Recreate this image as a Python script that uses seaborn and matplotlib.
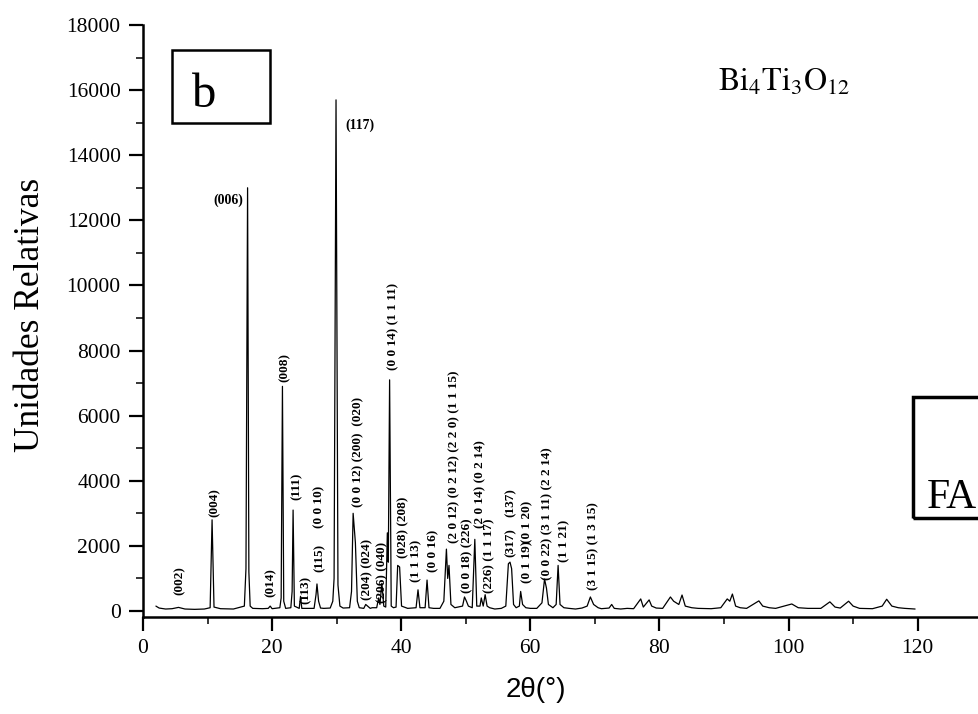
import matplotlib
matplotlib.use("Agg")
import matplotlib.pyplot as plt
from matplotlib.patches import Rectangle
from matplotlib.ticker import MultipleLocator
import seaborn as sns
import pandas as pd

# ---- data: XRD pattern vertices (2theta, intensity) ----
two_theta = [2.0, 2.5, 3.5, 4.5, 5.5, 6.5, 8.0, 9.5, 10.4, 10.7, 11.0, 12.0, 14.0,
             15.7, 15.95, 16.2, 16.4, 16.6, 17.0, 18.5, 19.4, 19.7, 20.0, 21.2, 21.4,
             21.6, 21.8, 22.1, 22.9, 23.1, 23.25, 23.45, 24.2, 24.4, 24.6, 26.5, 26.8,
             26.95, 27.2, 27.5, 28.0, 29.0, 29.4, 29.6, 29.9, 30.2, 30.5, 31.0, 32.0,
             32.3, 32.55, 32.9, 33.2, 33.5, 34.2, 34.5, 34.8, 35.2, 35.5, 36.2, 36.5,
             36.7, 37.0, 37.3, 37.6, 37.85, 38.0, 38.2, 38.45, 38.8, 39.2, 39.45, 39.75,
             40.05, 41.0, 42.3, 42.6, 42.9, 43.7, 44.0, 44.3, 45.0, 46.0, 46.6, 47.0,
             47.2, 47.4, 47.7, 48.3, 49.5, 49.8, 50.1, 50.4, 51.0, 51.4, 51.7, 52.2,
             52.4, 52.7, 53.0, 53.3, 53.7, 54.5, 55.5, 56.2, 56.6, 56.85, 57.1, 57.4,
             57.8, 58.3, 58.5, 58.8, 59.3, 60.0, 61.0, 61.8, 62.2, 62.5, 62.8, 63.5,
             64.0, 64.3, 64.6, 65.2, 66.0, 67.0, 68.0, 68.8, 69.3, 69.8, 70.5, 71.0,
             72.2, 72.6, 73.0, 74.0, 75.0, 76.0, 77.1, 77.5, 78.4, 78.8, 79.5, 80.5,
             81.7, 82.2, 83.0, 83.5, 84.0, 85.0, 86.0, 88.0, 89.5, 90.5, 90.9, 91.3,
             91.8, 92.5, 93.5, 95.4, 96.0, 97.0, 98.0, 100.5, 101.5, 103.0, 105.0,
             106.4, 107.2, 108.0, 109.3, 110.0, 111.0, 113.0, 114.5, 115.2, 116.0,
             117.0, 118.0, 119.6]
intensity = [150, 90, 60, 70, 110, 60, 50, 60, 100, 2800, 120, 70, 60,
             150, 1300, 13000, 1200, 150, 80, 70, 80, 150, 70, 100, 400,
             6900, 300, 80, 100, 600, 3100, 150, 80, 450, 80, 80, 500,
             830, 300, 90, 80, 90, 300, 1000, 15700, 800, 150, 90, 100,
             600, 3000, 2100, 300, 100, 80, 200, 150, 80, 100, 100, 400,
             200, 850, 150, 120, 2400, 1500, 7100, 150, 100, 120, 1400, 1350,
             150, 80, 100, 650, 100, 100, 950, 100, 80, 80, 300, 1900,
             1000, 1400, 200, 100, 150, 430, 300, 150, 100, 2200, 150, 150,
             400, 150, 500, 150, 100, 60, 80, 150, 1450, 1500, 1300, 200,
             100, 150, 600, 200, 100, 80, 80, 250, 980, 700, 200, 100,
             200, 1400, 200, 100, 80, 60, 90, 150, 430, 200, 100, 70,
             90, 200, 80, 60, 80, 70, 370, 120, 340, 150, 90, 80,
             430, 300, 200, 490, 150, 100, 80, 70, 100, 370, 300, 520,
             150, 100, 80, 310, 150, 100, 80, 215, 100, 80, 80,
             280, 120, 90, 300, 150, 80, 70, 150, 360, 150,
             100, 80, 60]

# ---- peak labels (vertical) : text, 2theta, bottom intensity ----
v_labels = ["(002)", "(004)", "(014)", "(008)", "(111)", "(113)", "(115)", "(0 0 10)",
            "(0 0 12) (200)  (020)", "(204) (024)", "(206) (040)", "(0 0 14) (1 1 11)",
            "(028) (208)", "(1 1 13)", "(0 0 16)", "(2 0 12) (0 2 12) (2 2 0) (1 1 15)",
            "(0 0 18) (226)", "(2 0 14) (0 2 14)", "(226) (1 1 17)", "(317)", "(137)",
            "(0 1 19)", "(0 1 20)", "(0 0 22) (3 1 11) (2 2 14)", "(1 1 21)",
            "(3 1 15) (1 3 15)"]
v_label_x = [5.7, 11.1, 19.7, 22.0, 23.8, 25.2, 27.3, 27.3, 33.3, 34.7, 37.0, 38.7,
             40.3, 42.4, 44.9, 48.2, 50.2, 52.2, 53.7, 57.0, 57.0, 59.5, 59.6, 62.7,
             65.3, 69.7]
v_label_y = [490, 2890, 430, 7030, 3410, 215, 1200, 2550, 3195, 340, 250, 7400,
             1630, 890, 1200, 2090, 550, 2550, 550, 1660, 2890, 860, 2090, 950,
             1500, 650]
# horizontal labels
h_labels = ["(006)", "(117)"]
h_label_x = [15.5, 31.3]
h_label_y = [12620, 14930]

x_ticks = [0, 20, 40, 60, 80, 100, 120]
y_ticks = [0, 2000, 4000, 6000, 8000, 10000, 12000, 14000, 16000, 18000]

df = pd.DataFrame({"2theta": two_theta, "I": intensity})

sns.set_theme(style="ticks")
plt.rcParams["font.family"] = ["Liberation Serif", "DejaVu Serif"]
plt.rcParams["mathtext.fontset"] = "stix"

W, H = 979, 714
fig = plt.figure(figsize=(W / 100, H / 100), dpi=100)
fig.patch.set_facecolor("white")
ax = fig.add_axes([143 / W, 97 / H, 836 / W, 592 / H])
ax.set_facecolor("white")

sns.lineplot(data=df, x="2theta", y="I", ax=ax, color="black", linewidth=0.9,
             estimator=None, sort=False)

ax.set_xlim(0, 129.5)
ax.set_ylim(-185, 18000)
ax.set_xticks(x_ticks)
ax.set_yticks(y_ticks)
ax.xaxis.set_minor_locator(MultipleLocator(10))
ax.yaxis.set_minor_locator(MultipleLocator(1000))
ax.tick_params(axis="both", which="major", direction="out", length=10, width=1.6,
               labelsize=15.5, colors="black", pad=6)
ax.tick_params(axis="both", which="minor", direction="out", length=5, width=1.3)
for s in ["top", "right"]:
    ax.spines[s].set_visible(False)
for s in ["left", "bottom"]:
    ax.spines[s].set_linewidth(1.8)
    ax.spines[s].set_color("black")

ax.set_ylabel("Unidades Relativas", fontsize=25.5, color="black", va="center")
ax.yaxis.set_label_coords(-0.135, 0.51)
ax.set_xlabel("2θ(°)", fontsize=20, color="black", family=["Liberation Sans", "DejaVu Sans"],
              va="center")
ax.xaxis.set_label_coords(0.47, -0.123)

for t, x, y in zip(v_labels, v_label_x, v_label_y):
    ax.text(x, y, t, rotation=90, ha="center", va="bottom", fontsize=9.5,
            fontweight="bold", color="black")
for t, x, y in zip(h_labels, h_label_x, h_label_y):
    ha = "right" if x < 20 else "left"
    ax.text(x, y, t, ha=ha, va="center", fontsize=10, fontweight="bold", color="black")

# compound name
ax.text(89.0, 16000, r"$\mathrm{Bi_4Ti_3O_{12}}$", fontsize=23, ha="left",
        va="baseline", color="black")

# panel label box "b"
fig.patches.append(Rectangle((172 / W, 1 - 123 / H), 98 / W, 73 / H,
                             transform=fig.transFigure, fill=False, ec="black", lw=1.8))
fig.text(204 / W, 1 - 107 / H, "b", fontsize=35, ha="center", va="baseline", color="black")

# stamp box at right edge (clipped by the scan edge)
fig.patches.append(Rectangle((913 / W, 1 - 518 / H), 120 / W, 121 / H,
                             transform=fig.transFigure, fill=False, ec="black", lw=2.5))
fig.text(977 / W, 1 - 508 / H, "FA", fontsize=30, ha="right", va="baseline", color="black")

fig.savefig("out.png", dpi=100, facecolor="white")
